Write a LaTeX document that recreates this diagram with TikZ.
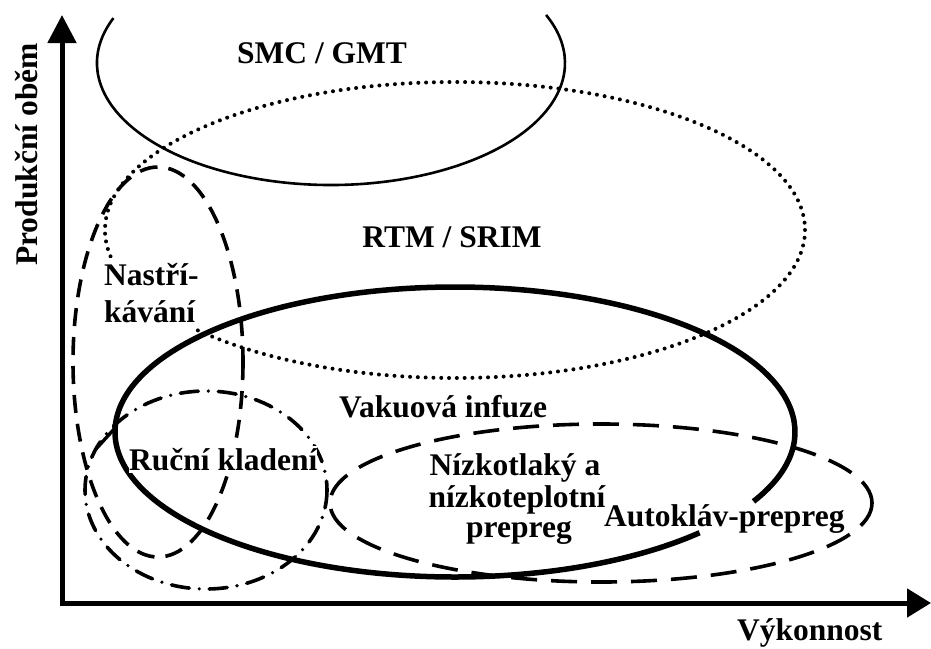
\documentclass[tikz,border=0pt]{standalone}
\usepackage{fontspec}
\setmainfont{Liberation Serif}
\usetikzlibrary{arrows.meta}
\begin{document}
\begin{tikzpicture}[x=1pt,y=-1pt,
  lbl/.style={font=\fontsize{31.5}{37}\selectfont\bfseries, inner sep=0pt},
  axisline/.style={line width=5pt, line join=miter,
     {Triangle[length=28pt,width=28pt]}-{Triangle[length=24pt,width=28pt]}},
  smcline/.style={line width=2.6pt},
  rtmline/.style={line width=4pt, line cap=round, dash pattern=on 0pt off 7.8pt},
  sprayline/.style={line width=3.6pt, dash pattern=on 18pt off 11pt},
  handline/.style={line width=3.6pt, line cap=round, dash pattern=on 18pt off 10pt on 0pt off 10pt},
  autoline/.style={line width=3.6pt, dash pattern=on 26pt off 14pt},
  vacline/.style={line width=5.5pt},
  stubline/.style={line width=3.4pt}]
\useasboundingbox (0,0) rectangle (931,648);

% axes
\coordinate (ytip) at (62,15);
\coordinate (xtip) at (931,603);
\draw[axisline] (ytip) |- (xtip);

% SMC / GMT (open arc)
\coordinate (cSMC) at (331,63);
\draw[smcline] (cSMC) ++(201.6:234 and 122) arc[start angle=201.6, end angle=-23.2, x radius=234, y radius=122];

% RTM / SRIM dotted
\coordinate (cRTM) at (455,230);
\draw[rtmline] (cRTM) ellipse[x radius=350, y radius=148];

% Nastrikavani dashed
\coordinate (cSpray) at (158,362);
\draw[sprayline] (cSpray) ellipse[x radius=85, y radius=195];

% Rucni kladeni dash-dot
\coordinate (cHand) at (206,490);
\draw[handline] (cHand) ellipse[x radius=121, y radius=99];

% Autoklav dashed
\coordinate (cAuto) at (601,503);
\draw[autoline] (cAuto) ellipse[x radius=271, y radius=79];

% Vakuova infuze thick (with gap for label)
\coordinate (cVac) at (455,432);
\draw[vacline] (cVac) ++(44:340 and 145) arc[start angle=44, end angle=388.6, x radius=340, y radius=145];

% small stub
\coordinate (stubA) at (95,450);
\coordinate (stubB) at (116,427);
\draw[stubline] (stubA) -- (stubB);

% labels
\node[lbl, anchor=base] (tSMC) at (322,63) {SMC / GMT};
\node[lbl, anchor=base] (tRTM) at (452,247) {RTM / SRIM};
\node[lbl, anchor=base west, rotate=90] (tY) at (37,266) {Produkční oběm};
\node[lbl, anchor=base west, fill=white, text height=27pt, text depth=10pt] (tSpray1) at (104,285) {Nastří-};
\node[lbl, anchor=base west, fill=white, text height=27pt, text depth=8pt] (tSpray2) at (104,322) {kávání};
\node[lbl, anchor=base west] (tVac) at (339,417) {Vakuová infuze};
\node[lbl, anchor=base west, fill=white, text height=24pt, text depth=3pt] (tHand) at (129,470) {Ruční kladení};
\node[lbl, anchor=base] (tLow1) at (515,475) {Nízkotlaký a};
\node[lbl, anchor=base] (tLow2) at (517,507) {nízkoteplotní};
\node[lbl, anchor=base] (tLow3) at (519,537) {prepreg};
\node[lbl, anchor=base west] (tAuto) at (604,526) {Autokláv-prepreg};
\node[lbl, anchor=base west] (tX) at (737,640) {Výkonnost};
\end{tikzpicture}
\end{document}
